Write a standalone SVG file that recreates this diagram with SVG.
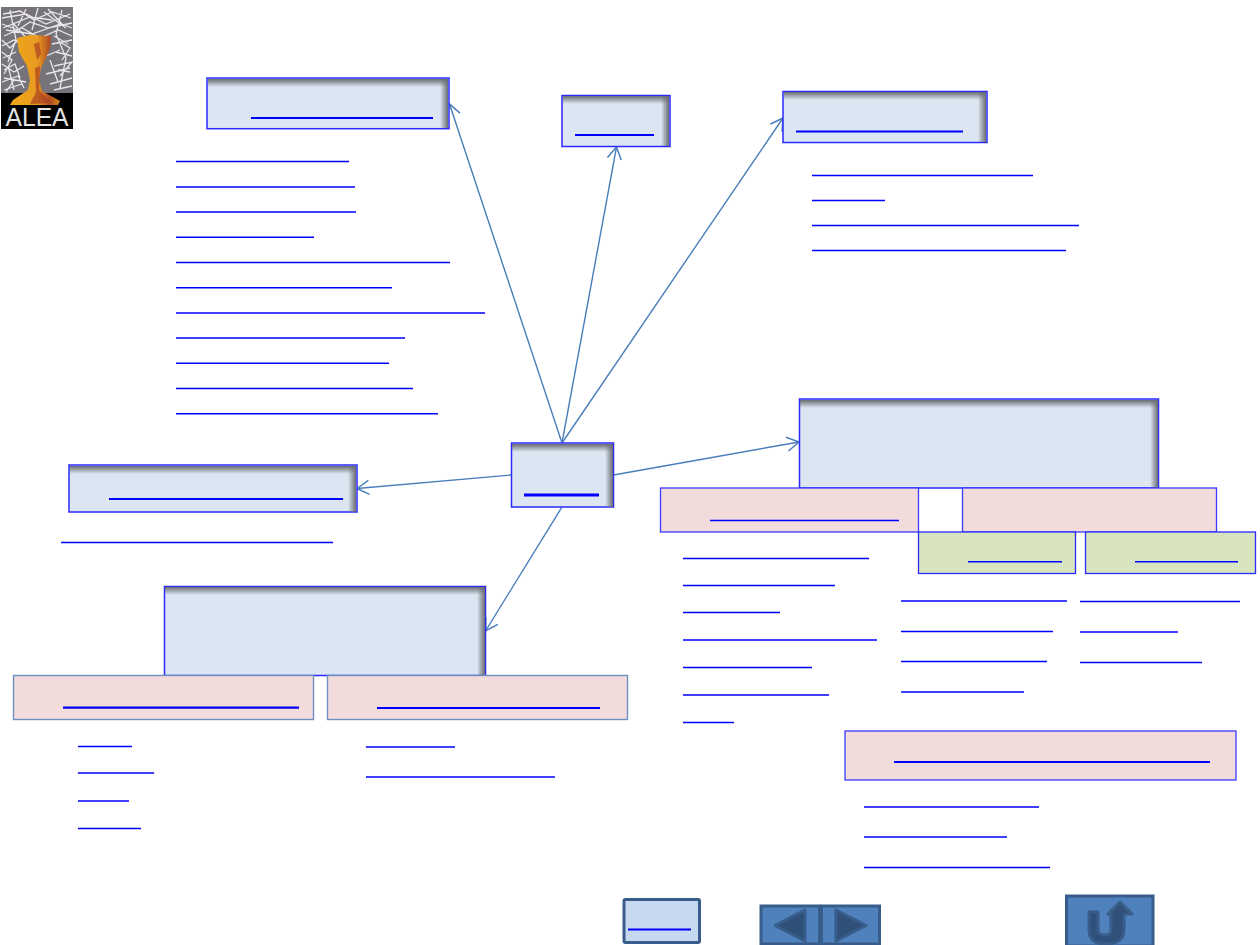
<svg xmlns="http://www.w3.org/2000/svg" width="1260" height="945" viewBox="0 0 1260 945">
<style>
.b{fill:#dce6f2;stroke:#2a2aff;stroke-width:1.5}
.p{fill:#f2dcdb;stroke:#3a3aff;stroke-width:1.3}
.q{fill:#f2dcdb;stroke:#6f8fc4;stroke-width:1.4}
.g{fill:#d8e4bd;stroke:#2a2aff;stroke-width:1.3}
.u{stroke:#0000ff;stroke-width:2.2;fill:none}
.w{stroke:#0000ff;stroke-width:3;fill:none}
.t{stroke:#0000ff;stroke-width:1.5;fill:none}
.c{stroke:#4a7ebb;stroke-width:1.4;fill:none;marker-end:url(#a)}
.n{fill:#4f81bd;stroke:#385d8a;stroke-width:3}
.d{fill:#2f5078;stroke:#385d8a;stroke-width:3;stroke-linejoin:round}
.s{fill:none;stroke:#e8e6ea;stroke-width:1.3}
</style>
<defs>
<marker id="a" viewBox="0 0 14 16" refX="13" refY="8" markerWidth="14" markerHeight="16" markerUnits="userSpaceOnUse" orient="auto"><path d="M1 1L13 8L1 15" fill="none" stroke="#4a7ebb" stroke-width="1.5"/></marker>
<linearGradient id="st" x1="0" y1="0" x2="0" y2="1"><stop offset="0" stop-color="#6a6d73"/><stop offset="1" stop-color="#6a6d73" stop-opacity="0"/></linearGradient>
<linearGradient id="sr" x1="1" y1="0" x2="0" y2="0"><stop offset="0" stop-color="#6a6d73"/><stop offset="1" stop-color="#6a6d73" stop-opacity="0"/></linearGradient>
<linearGradient id="gob" x1="0" y1="0" x2="1" y2="0"><stop offset="0" stop-color="#f0a81e"/><stop offset=".55" stop-color="#e89a20"/><stop offset=".8" stop-color="#b04a20"/><stop offset="1" stop-color="#d8881c"/></linearGradient>
<filter id="bl" x="-5%" y="-5%" width="110%" height="110%"><feGaussianBlur stdDeviation="0.7"/></filter>
</defs>

<g id="logo">
<rect x="1" y="7" width="72" height="122" fill="#77737b"/>
<g filter="url(#bl)">
<path class="s" d="M3 14L20 11L34 20L52 12L71 18M2 24L18 30L30 22L48 28L72 23M4 36L22 28L40 38L58 30L72 36M2 46L14 40L28 47M52 44L72 40M3 58L16 52M56 52L72 56M4 70L15 64L20 78M54 66L72 62L60 76M2 82L18 76L24 88M50 84L72 78M4 90L22 84M54 90L72 86M10 10L16 40L8 62M38 8L32 30M62 10L56 34L66 58L60 88M8 66L14 90M46 56L60 50M2 18L26 14L46 24L70 14M6 30L32 34L60 24M2 52L12 60L4 74M60 42L70 48L62 60M12 22L28 40M44 12L66 28M58 70L70 72M3 28L30 17L52 20M26 9L18 26M48 9L62 24L72 28M2 40L10 48L20 38M54 36L68 44M2 64L14 72L24 66M50 60L58 82M46 74L70 68M4 78L26 82M6 92L14 80"/>
<rect x="1" y="93" width="72" height="36" fill="#050505"/>
<path fill="url(#gob)" d="M17 38L30 35L51 36L50 48L46 58L41 68L39 80L42 91L60 101L58 105L10 105L13 100L28 90L30 80L27 66L19 52Z"/>
<path fill="#a83a20" d="M34 44L39 42L41 54L37 60ZM35 68L40 66L39 90L52 103L30 104L36 92Z" opacity=".65"/>
</g>
<text x="37" y="126" text-anchor="middle" font-family="'Liberation Sans',sans-serif" font-size="25" fill="#e4e4e4" textLength="63" lengthAdjust="spacingAndGlyphs">ALEA</text>
</g>

<g id="connectors">
<path class="c" d="M562 443L449.500 104"/>
<path class="c" d="M562 443L616.500 147"/>
<path class="c" d="M562 443L783 118"/>
<path class="c" d="M613.500 475L799 442"/>
<path class="c" d="M511.500 475L357 488.500"/>
<path class="c" d="M562 507L485.500 631"/>
</g>

<g id="node-a"><rect class="b" x="207" y="78" width="242" height="50.700"/><rect x="208" y="79" width="240" height="8" fill="url(#st)"/><rect x="440" y="79" width="8" height="49" fill="url(#sr)"/><path class="u" d="M251 118H433"/></g>
<g id="node-b"><rect class="b" x="562" y="95.500" width="108" height="51"/><rect x="563" y="96" width="106" height="8" fill="url(#st)"/><rect x="661" y="96" width="8" height="50" fill="url(#sr)"/><path class="u" d="M575 135H654"/></g>
<g id="node-c"><rect class="b" x="783" y="91.500" width="204" height="51"/><rect x="784" y="92" width="202" height="8" fill="url(#st)"/><rect x="978" y="92" width="8" height="50" fill="url(#sr)"/><path class="u" d="M796 131.500H963"/></g>
<g id="node-center"><rect class="b" x="511.500" y="443" width="102" height="64"/><rect x="512" y="444" width="101" height="8" fill="url(#st)"/><rect x="605" y="444" width="8" height="63" fill="url(#sr)"/><path class="w" d="M524 495H599"/></g>
<g id="node-d"><rect class="b" x="799.500" y="399" width="359" height="89"/><rect x="800" y="400" width="358" height="8" fill="url(#st)"/><rect x="1150" y="400" width="8" height="88" fill="url(#sr)"/></g>
<g id="node-e"><rect class="b" x="69" y="465" width="288" height="47"/><rect x="70" y="466" width="286" height="8" fill="url(#st)"/><rect x="348" y="466" width="8" height="46" fill="url(#sr)"/><path class="u" d="M109 499H343"/></g>
<g id="node-f"><rect class="b" x="164.500" y="586.500" width="321" height="89"/><rect x="165" y="587" width="320" height="8" fill="url(#st)"/><rect x="477" y="587" width="8" height="88" fill="url(#sr)"/></g>

<g id="node-g"><rect class="q" x="13.500" y="675.500" width="300" height="44"/><path class="u" d="M63 707.700H299"/></g>
<g id="node-h"><rect class="q" x="327.500" y="675.500" width="300" height="44"/><path class="u" d="M377 708H600"/></g>
<g id="node-i"><rect class="p" x="660.500" y="488" width="258" height="44"/><path class="t" d="M710 520.500H899"/></g>
<g id="node-j"><rect class="p" x="962.500" y="488" width="254" height="44"/></g>
<g id="node-k"><rect class="g" x="918.500" y="532" width="157" height="41.500"/><path class="t" d="M968 561.700H1062"/></g>
<g id="node-l"><rect class="g" x="1085.500" y="532" width="170" height="41.500"/><path class="t" d="M1135 561.700H1238"/></g>
<g id="node-m"><rect class="p" x="845" y="731" width="391" height="49"/><path class="u" d="M894 762H1210"/></g>

<g id="links" class="t">
<path d="M176 161.500H349M176 187H355M176 212H356M176 237.300H314M176 262.500H450M176 287.700H392M176 313H485M176 338H405M176 363.300H389M176 388.500H413M176 413.700H438"/>
<path d="M812 175.500H1033M812 200.500H885M812 225.500H1079M812 250.500H1066"/>
<path d="M61 542.500H333"/>
<path d="M683 558.500H869M683 585.500H835M683 612.500H780M683 640H877M683 667.500H812M683 695H829M683 722.500H734"/>
<path d="M901 601H1067M901 631.500H1053M901 661.500H1047M901 692H1024"/>
<path d="M1080 601.500H1240M1080 632H1178M1080 662.500H1202"/>
<path d="M78 746.500H132M78 773H154M78 801H129M78 828.500H141"/>
<path d="M366 747H455M366 777H555"/>
<path d="M864 807H1039M864 837H1007M864 867.500H1050"/>
</g>

<g id="btn-home"><rect x="624" y="899.500" width="75.500" height="43" rx="1.500" fill="#c6d9f1" stroke="#385d8a" stroke-width="3"/><path class="u" d="M628 929.500H691"/></g>
<g id="btn-prev"><rect class="n" x="761" y="906" width="58.500" height="38"/><path class="d" d="M775 925.500L805 910V941Z"/></g>
<g id="btn-next"><rect class="n" x="821.500" y="906" width="58" height="38"/><path class="d" d="M866 925.500L836 910V941Z"/></g>
<g id="btn-return"><rect class="n" x="1066.500" y="896" width="86.500" height="50"/><path class="d" stroke-width="2.500" d="M1089 912H1098V930C1098 934 1101 935 1104 935H1106C1109 935 1111 934 1111 930V914H1108L1120 902L1132 914H1124V930C1124 940 1116 944 1106 944C1096 944 1089 940 1089 930Z"/></g>
</svg>
